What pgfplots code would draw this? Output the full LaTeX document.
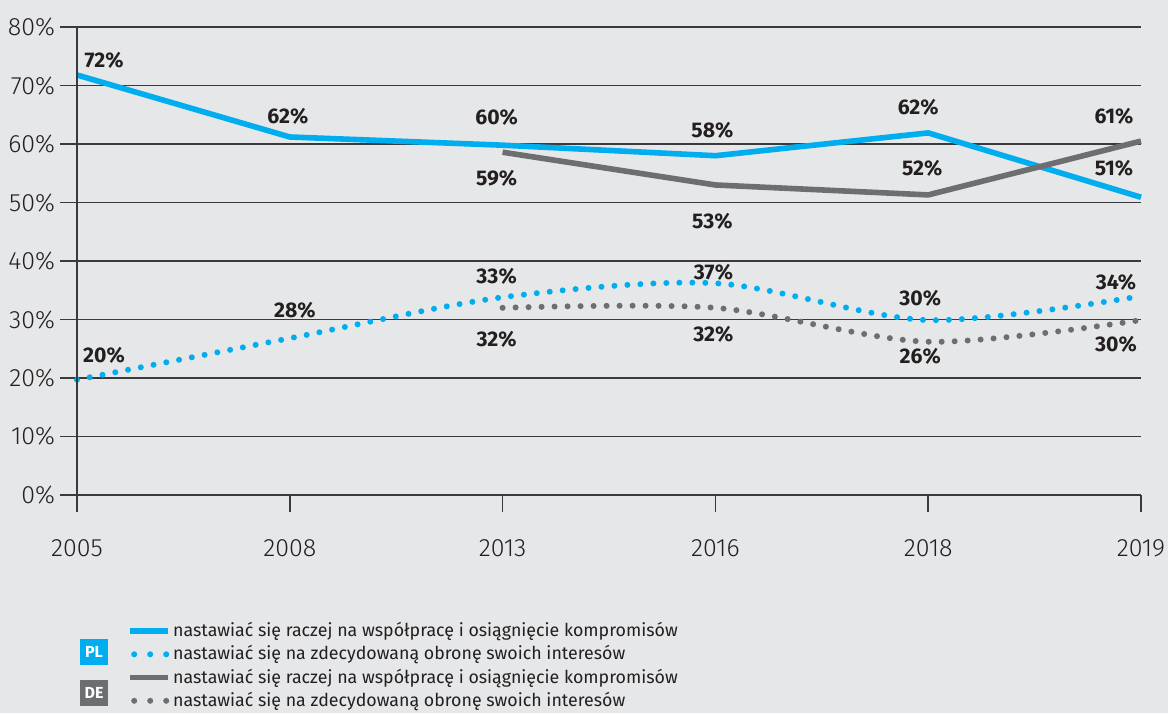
\documentclass[border=0pt]{standalone}
\usepackage{fontspec}
\setmainfont{Fira Sans}[UprightFont=* Light, BoldFont=* Bold]
\newfontfamily\regfont{Fira Sans}
\usepackage{pgfplots}
\usepackage{pgfplotstable}
\pgfplotsset{compat=1.18}
\definecolor{bg}{HTML}{E6E7E8}
\definecolor{plblue}{HTML}{00AEEF}
\definecolor{degrey}{HTML}{6D6E71}
\definecolor{txt}{HTML}{231F20}
\definecolor{gridc}{HTML}{3A3A3C}

% x: 0=2005, 1=2008, 2=2013, 3=2016, 4=2018, 5=2019 ; dx, dy = label offsets (pt)
\pgfplotstableread{
x y lab dx dy
0 71.8 72 13.5 7.5
1 61.2 62 -1 10.5
2 59.8 60 -3 14
3 58.0 58 -1.5 12.5
4 61.9 62 -5 13
5 50.9 51 -13.5 14.5
}\plsolid
\pgfplotstableread{
x y lab dx dy
2 58.6 59 -3 -13
3 53.0 53 -1.5 -18
4 51.3 52 -3 13.5
5 60.5 61 -13.5 12.5
}\desolid
\pgfplotstableread{
x y lab dx dy
0 19.7 20 13.5 12
1 26.8 28 2.5 14
2 33.8 33 -3 10.5
3 36.2 37 -1 5.5
4 29.9 30 -4 11
5 34.0 34 -12.5 7
}\pldot
\pgfplotstableread{
x y lab dx dy
2 32.0 32 -3 -15.5
3 32.0 32 -1 -13
4 26.2 26 -4 -7.5
5 29.9 30 -12.5 -12
}\dedot

\begin{document}
\begin{tikzpicture}[x=1pt,y=1pt]
\useasboundingbox (0,0) rectangle (584,-356.5);
\fill[bg] (0,0) rectangle (584,-356.5);
\begin{axis}[
  scale only axis,
  width=532pt, height=234pt,
  at={(38.5pt,-247.5pt)}, anchor=south west,
  xmin=0, xmax=5, ymin=0, ymax=80,
  xtick={0,1,2,3,4,5},
  xticklabels={2005,2008,2013,2016,2018,2019},
  ytick={0,10,...,80},
  yticklabel={\pgfmathprintnumber{\tick}\%},
  /pgf/number format/assume math mode=true,
  axis line style={draw=none},
  tick align=outside,
  major tick length=8.5pt,
  xtick pos=bottom, ytick pos=left,
  tick style={draw=gridc, line width=0.75pt},
  ymajorgrids,
  grid style={draw=gridc, line width=0.75pt},
  ticklabel style={font=\fontsize{12.5}{14}\selectfont, text=txt},
  xticklabel style={yshift=-10.5pt},
  yticklabel style={xshift=1pt},
  clip=false,
  axis background/.style={fill=bg},
  nodes near coords={\pgfmathprintnumber{\pgfplotspointmeta}\%},
  point meta=explicit,
  visualization depends on={\thisrow{dx} \as \mydx},
  visualization depends on={\thisrow{dy} \as \mydy},
  every node near coord/.append style={anchor=center, xshift=\mydx pt, yshift=\mydy pt,
     font=\fontsize{10.6}{12}\selectfont\bfseries, text=txt, solid},
  legend cell align=left,
  legend style={at={(axis description cs:0,0)}, anchor=north west,
     xshift=25pt, yshift=-62.5pt, draw=none, fill=none, inner sep=0pt,
     font=\regfont\fontsize{8.9}{9.5}\selectfont, text=txt, row sep=1pt,
     nodes={inner sep=1pt}},
  solidline/.style={line width=2.8pt,
     legend image code/.code={\draw[##1] (0pt,0pt) -- (19pt,0pt);}},
  dotline/.style={line width=3pt, line cap=round, dash pattern=on 0pt off 6.5pt, smooth,
     legend image code/.code={\draw[##1, dash pattern=on 0pt off 8pt] (2pt,0pt) -- (19pt,0pt);}},
]
\addplot[plblue, solidline] table[x=x, y=y, meta=lab] {\plsolid};
\addlegendentry{nastawiać się raczej na współpracę i osiągnięcie kompromisów}
\addplot[plblue, dotline] table[x=x, y=y, meta=lab] {\pldot};
\addlegendentry{nastawiać się na zdecydowaną obronę swoich interesów}
\addplot[degrey, solidline] table[x=x, y=y, meta=lab] {\desolid};
\addlegendentry{nastawiać się raczej na współpracę i osiągnięcie kompromisów}
\addplot[degrey, dotline] table[x=x, y=y, meta=lab] {\dedot};
\addlegendentry{nastawiać się na zdecydowaną obronę swoich interesów}
\draw[gridc, line width=0.75pt] (rel axis cs:0,0) -- (rel axis cs:0,1);
\end{axis}
\node[fill=plblue, text=white, minimum width=14pt, minimum height=13pt, inner sep=0pt,
  font=\fontsize{8}{9}\selectfont\bfseries] at (47,-326) {PL};
\node[fill=degrey, text=white, minimum width=14pt, minimum height=13pt, inner sep=0pt,
  font=\fontsize{8}{9}\selectfont\bfseries] at (47,-346.5) {DE};
\end{tikzpicture}
\end{document}
